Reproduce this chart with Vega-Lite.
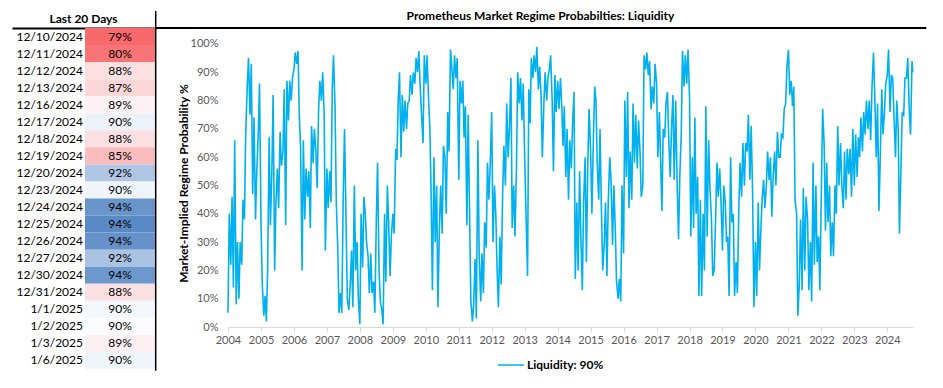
{
"$schema": "https://vega.github.io/schema/vega-lite/v6.json",
"padding": {"left": 12, "top": 10, "right": 5, "bottom": 0},
"bounds": "flush",
"spacing": 73,
"config": {
  "view": {"stroke": null},
  "font": "Lato",
  "title": {"fontSize": 12, "fontWeight": "bold", "color": "#000000", "frame": "group"},
  "text": {"fontSize": 12, "color": "#000000"}
},
"hconcat": [
{
  "width": 143,
  "height": 341,
  "title": {"text": "Last 20 Days", "anchor": "middle", "offset": 2},
  "data": {"values": [
    {"day": "12/10/2024", "prob": 0.790},
    {"day": "12/11/2024", "prob": 0.798},
    {"day": "12/12/2024", "prob": 0.878},
    {"day": "12/13/2024", "prob": 0.872},
    {"day": "12/16/2024", "prob": 0.892},
    {"day": "12/17/2024", "prob": 0.904},
    {"day": "12/18/2024", "prob": 0.879},
    {"day": "12/19/2024", "prob": 0.851},
    {"day": "12/20/2024", "prob": 0.920},
    {"day": "12/23/2024", "prob": 0.903},
    {"day": "12/24/2024", "prob": 0.938},
    {"day": "12/25/2024", "prob": 0.942},
    {"day": "12/26/2024", "prob": 0.939},
    {"day": "12/27/2024", "prob": 0.921},
    {"day": "12/30/2024", "prob": 0.937},
    {"day": "12/31/2024", "prob": 0.879},
    {"day": "1/1/2025", "prob": 0.902},
    {"day": "1/2/2025", "prob": 0.899},
    {"day": "1/3/2025", "prob": 0.891},
    {"day": "1/6/2025", "prob": 0.903}
  ]},
  "layer": [
    {
      "mark": {"type": "rect"},
      "encoding": {
        "y": {"field": "day", "type": "ordinal", "sort": null, "axis": null, "scale": {"paddingInner": 0, "paddingOuter": 0}},
        "x": {"datum": 73, "type": "quantitative", "scale": {"domain": [0, 143], "nice": false, "zero": false}, "axis": {"orient": "top", "labels": false, "ticks": false, "grid": false, "domainColor": "#000000", "domainWidth": 2, "title": null}},
        "x2": {"datum": 143},
        "color": {"field": "prob", "type": "quantitative", "legend": null, "scale": {"domain": [0.79, 0.9, 0.942], "range": ["#f8696b", "#fcfcff", "#5a8ac6"], "interpolate": "rgb"}}
      }
    },
    {
      "mark": {"type": "text", "align": "right"},
      "encoding": {
        "y": {"field": "day", "type": "ordinal", "sort": null, "axis": null},
        "x": {"datum": 71, "type": "quantitative"},
        "text": {"field": "day"}
      }
    },
    {
      "mark": {"type": "text", "align": "center"},
      "encoding": {
        "y": {"field": "day", "type": "ordinal", "sort": null, "axis": null},
        "x": {"datum": 108, "type": "quantitative"},
        "text": {"field": "prob", "format": ".0%"}
      }
    }
  ]
},
{
  "width": 685,
  "height": 341,
  "title": {"text": "Prometheus Market Regime Probabilties: Liquidity", "anchor": "middle", "offset": -13, "dx": -30},
  "layer": [
    {
      "data": {"values": [
{"date":"2004-01-01","value":0.05},{"date":"2004-01-15","value":0.40},{"date":"2004-02-01","value":0.22},{"date":"2004-02-15","value":0.46},{"date":"2004-03-01","value":0.14},{"date":"2004-03-15","value":0.66},{"date":"2004-04-01","value":0.08},{"date":"2004-04-15","value":0.30},{"date":"2004-05-01","value":0.10},{"date":"2004-05-15","value":0.30},{"date":"2004-06-01","value":0.22},{"date":"2004-06-15","value":0.45},{"date":"2004-07-01","value":0.38},{"date":"2004-07-15","value":0.68},{"date":"2004-08-01","value":0.85},{"date":"2004-08-15","value":0.95},{"date":"2004-09-01","value":0.75},{"date":"2004-09-15","value":0.93},{"date":"2004-10-01","value":0.47},{"date":"2004-10-15","value":0.74},{"date":"2004-11-01","value":0.38},{"date":"2004-11-15","value":0.55},{"date":"2004-12-01","value":0.68},{"date":"2004-12-15","value":0.86},
{"date":"2005-01-01","value":0.36},{"date":"2005-01-15","value":0.15},{"date":"2005-02-01","value":0.04},{"date":"2005-02-15","value":0.11},{"date":"2005-03-01","value":0.02},{"date":"2005-03-15","value":0.20},{"date":"2005-04-01","value":0.67},{"date":"2005-04-15","value":0.36},{"date":"2005-05-01","value":0.55},{"date":"2005-05-15","value":0.82},{"date":"2005-06-01","value":0.20},{"date":"2005-06-15","value":0.44},{"date":"2005-07-01","value":0.56},{"date":"2005-07-15","value":0.42},{"date":"2005-08-01","value":0.69},{"date":"2005-08-15","value":0.57},{"date":"2005-09-01","value":0.62},{"date":"2005-09-15","value":0.84},{"date":"2005-10-01","value":0.36},{"date":"2005-10-15","value":0.87},{"date":"2005-11-01","value":0.73},{"date":"2005-11-15","value":0.87},{"date":"2005-12-01","value":0.80},{"date":"2005-12-15","value":0.88},
{"date":"2006-01-01","value":0.91},{"date":"2006-01-15","value":0.97},{"date":"2006-02-01","value":0.93},{"date":"2006-02-15","value":0.975},{"date":"2006-03-01","value":0.75},{"date":"2006-03-15","value":0.64},{"date":"2006-04-01","value":0.20},{"date":"2006-04-15","value":0.66},{"date":"2006-05-01","value":0.38},{"date":"2006-05-15","value":0.56},{"date":"2006-06-01","value":0.46},{"date":"2006-06-15","value":0.55},{"date":"2006-07-01","value":0.35},{"date":"2006-07-15","value":0.71},{"date":"2006-08-01","value":0.58},{"date":"2006-08-15","value":0.70},{"date":"2006-09-01","value":0.62},{"date":"2006-09-15","value":0.49},{"date":"2006-10-01","value":0.77},{"date":"2006-10-15","value":0.87},{"date":"2006-11-01","value":0.80},{"date":"2006-11-15","value":0.90},{"date":"2006-12-01","value":0.76},{"date":"2006-12-15","value":0.27},
{"date":"2007-01-01","value":0.56},{"date":"2007-01-15","value":0.42},{"date":"2007-02-01","value":0.55},{"date":"2007-02-15","value":0.44},{"date":"2007-03-01","value":0.84},{"date":"2007-03-15","value":0.96},{"date":"2007-04-01","value":0.78},{"date":"2007-04-15","value":0.44},{"date":"2007-05-01","value":0.28},{"date":"2007-05-15","value":0.05},{"date":"2007-06-01","value":0.12},{"date":"2007-06-15","value":0.05},{"date":"2007-07-01","value":0.47},{"date":"2007-07-15","value":0.70},{"date":"2007-08-01","value":0.38},{"date":"2007-08-15","value":0.10},{"date":"2007-09-01","value":0.06},{"date":"2007-09-15","value":0.14},{"date":"2007-10-01","value":0.27},{"date":"2007-10-15","value":0.07},{"date":"2007-11-01","value":0.50},{"date":"2007-11-15","value":0.20},{"date":"2007-12-01","value":0.30},{"date":"2007-12-15","value":0.10},
{"date":"2008-01-01","value":0.01},{"date":"2008-01-15","value":0.40},{"date":"2008-02-01","value":0.21},{"date":"2008-02-15","value":0.46},{"date":"2008-03-01","value":0.40},{"date":"2008-03-15","value":0.30},{"date":"2008-04-01","value":0.25},{"date":"2008-04-15","value":0.12},{"date":"2008-05-01","value":0.26},{"date":"2008-05-15","value":0.12},{"date":"2008-06-01","value":0.16},{"date":"2008-06-15","value":0.05},{"date":"2008-07-01","value":0.37},{"date":"2008-07-15","value":0.58},{"date":"2008-08-01","value":0.20},{"date":"2008-08-15","value":0.09},{"date":"2008-09-01","value":0.06},{"date":"2008-09-15","value":0.01},{"date":"2008-10-01","value":0.40},{"date":"2008-10-15","value":0.16},{"date":"2008-11-01","value":0.50},{"date":"2008-11-15","value":0.37},{"date":"2008-12-01","value":0.18},{"date":"2008-12-15","value":0.32},
{"date":"2009-01-01","value":0.40},{"date":"2009-01-15","value":0.33},{"date":"2009-02-01","value":0.63},{"date":"2009-02-15","value":0.59},{"date":"2009-03-01","value":0.80},{"date":"2009-03-15","value":0.90},{"date":"2009-04-01","value":0.60},{"date":"2009-04-15","value":0.82},{"date":"2009-05-01","value":0.69},{"date":"2009-05-15","value":0.80},{"date":"2009-06-01","value":0.70},{"date":"2009-06-15","value":0.79},{"date":"2009-07-01","value":0.80},{"date":"2009-07-15","value":0.89},{"date":"2009-08-01","value":0.82},{"date":"2009-08-15","value":0.90},{"date":"2009-09-01","value":0.86},{"date":"2009-09-15","value":0.95},{"date":"2009-10-01","value":0.90},{"date":"2009-10-15","value":0.975},{"date":"2009-11-01","value":0.84},{"date":"2009-11-15","value":0.75},{"date":"2009-12-01","value":0.65},{"date":"2009-12-15","value":0.96},
{"date":"2010-01-01","value":0.86},{"date":"2010-01-15","value":0.96},{"date":"2010-02-01","value":0.80},{"date":"2010-02-15","value":0.70},{"date":"2010-03-01","value":0.46},{"date":"2010-03-15","value":0.13},{"date":"2010-04-01","value":0.60},{"date":"2010-04-15","value":0.30},{"date":"2010-05-01","value":0.50},{"date":"2010-05-15","value":0.07},{"date":"2010-06-01","value":0.36},{"date":"2010-06-15","value":0.50},{"date":"2010-07-01","value":0.33},{"date":"2010-07-15","value":0.64},{"date":"2010-08-01","value":0.60},{"date":"2010-08-15","value":0.40},{"date":"2010-09-01","value":0.76},{"date":"2010-09-15","value":0.62},{"date":"2010-10-01","value":0.98},{"date":"2010-10-15","value":0.92},{"date":"2010-11-01","value":0.84},{"date":"2010-11-15","value":0.96},{"date":"2010-12-01","value":0.88},{"date":"2010-12-15","value":0.95},
{"date":"2011-01-01","value":0.52},{"date":"2011-01-15","value":0.87},{"date":"2011-02-01","value":0.79},{"date":"2011-02-15","value":0.87},{"date":"2011-03-01","value":0.67},{"date":"2011-03-15","value":0.78},{"date":"2011-04-01","value":0.36},{"date":"2011-04-15","value":0.75},{"date":"2011-05-01","value":0.40},{"date":"2011-05-15","value":0.09},{"date":"2011-06-01","value":0.02},{"date":"2011-06-15","value":0.08},{"date":"2011-07-01","value":0.24},{"date":"2011-07-15","value":0.03},{"date":"2011-08-01","value":0.66},{"date":"2011-08-15","value":0.26},{"date":"2011-09-01","value":0.09},{"date":"2011-09-15","value":0.26},{"date":"2011-10-01","value":0.12},{"date":"2011-10-15","value":0.37},{"date":"2011-11-01","value":0.28},{"date":"2011-11-15","value":0.58},{"date":"2011-12-01","value":0.45},{"date":"2011-12-15","value":0.57},
{"date":"2012-01-01","value":0.76},{"date":"2012-01-15","value":0.30},{"date":"2012-02-01","value":0.50},{"date":"2012-02-15","value":0.40},{"date":"2012-03-01","value":0.20},{"date":"2012-03-15","value":0.07},{"date":"2012-04-01","value":0.32},{"date":"2012-04-15","value":0.15},{"date":"2012-05-01","value":0.47},{"date":"2012-05-15","value":0.64},{"date":"2012-06-01","value":0.50},{"date":"2012-06-15","value":0.79},{"date":"2012-07-01","value":0.60},{"date":"2012-07-15","value":0.70},{"date":"2012-08-01","value":0.88},{"date":"2012-08-15","value":0.35},{"date":"2012-09-01","value":0.50},{"date":"2012-09-15","value":0.32},{"date":"2012-10-01","value":0.56},{"date":"2012-10-15","value":0.90},{"date":"2012-11-01","value":0.79},{"date":"2012-11-15","value":0.88},{"date":"2012-12-01","value":0.73},{"date":"2012-12-15","value":0.86},
{"date":"2013-01-01","value":0.59},{"date":"2013-01-15","value":0.40},{"date":"2013-02-01","value":0.18},{"date":"2013-02-15","value":0.84},{"date":"2013-03-01","value":0.72},{"date":"2013-03-15","value":0.95},{"date":"2013-04-01","value":0.88},{"date":"2013-04-15","value":0.96},{"date":"2013-05-01","value":0.90},{"date":"2013-05-15","value":0.99},{"date":"2013-06-01","value":0.84},{"date":"2013-06-15","value":0.92},{"date":"2013-07-01","value":0.82},{"date":"2013-07-15","value":0.60},{"date":"2013-08-01","value":0.79},{"date":"2013-08-15","value":0.90},{"date":"2013-09-01","value":0.80},{"date":"2013-09-15","value":0.88},{"date":"2013-10-01","value":0.91},{"date":"2013-10-15","value":0.96},{"date":"2013-11-01","value":0.80},{"date":"2013-11-15","value":0.55},{"date":"2013-12-01","value":0.89},{"date":"2013-12-15","value":0.76},
{"date":"2014-01-01","value":0.87},{"date":"2014-01-15","value":0.77},{"date":"2014-02-01","value":0.88},{"date":"2014-02-15","value":0.78},{"date":"2014-03-01","value":0.64},{"date":"2014-03-15","value":0.78},{"date":"2014-04-01","value":0.53},{"date":"2014-04-15","value":0.70},{"date":"2014-05-01","value":0.45},{"date":"2014-05-15","value":0.66},{"date":"2014-06-01","value":0.56},{"date":"2014-06-15","value":0.72},{"date":"2014-07-01","value":0.83},{"date":"2014-07-15","value":0.17},{"date":"2014-08-01","value":0.44},{"date":"2014-08-15","value":0.20},{"date":"2014-09-01","value":0.55},{"date":"2014-09-15","value":0.32},{"date":"2014-10-01","value":0.13},{"date":"2014-10-15","value":0.44},{"date":"2014-11-01","value":0.60},{"date":"2014-11-15","value":0.23},{"date":"2014-12-01","value":0.58},{"date":"2014-12-15","value":0.77},
{"date":"2015-01-01","value":0.62},{"date":"2015-01-15","value":0.40},{"date":"2015-02-01","value":0.67},{"date":"2015-02-15","value":0.85},{"date":"2015-03-01","value":0.80},{"date":"2015-03-15","value":0.58},{"date":"2015-04-01","value":0.45},{"date":"2015-04-15","value":0.70},{"date":"2015-05-01","value":0.41},{"date":"2015-05-15","value":0.20},{"date":"2015-06-01","value":0.30},{"date":"2015-06-15","value":0.44},{"date":"2015-07-01","value":0.18},{"date":"2015-07-15","value":0.44},{"date":"2015-08-01","value":0.60},{"date":"2015-08-15","value":0.52},{"date":"2015-09-01","value":0.29},{"date":"2015-09-15","value":0.50},{"date":"2015-10-01","value":0.35},{"date":"2015-10-15","value":0.16},{"date":"2015-11-01","value":0.10},{"date":"2015-11-15","value":0.17},{"date":"2015-12-01","value":0.09},{"date":"2015-12-15","value":0.50},
{"date":"2016-01-01","value":0.26},{"date":"2016-01-15","value":0.80},{"date":"2016-02-01","value":0.53},{"date":"2016-02-15","value":0.83},{"date":"2016-03-01","value":0.42},{"date":"2016-03-15","value":0.62},{"date":"2016-04-01","value":0.45},{"date":"2016-04-15","value":0.79},{"date":"2016-05-01","value":0.58},{"date":"2016-05-15","value":0.75},{"date":"2016-06-01","value":0.56},{"date":"2016-06-15","value":0.73},{"date":"2016-07-01","value":0.62},{"date":"2016-07-15","value":0.46},{"date":"2016-08-01","value":0.50},{"date":"2016-08-15","value":0.96},{"date":"2016-09-01","value":0.91},{"date":"2016-09-15","value":0.97},{"date":"2016-10-01","value":0.89},{"date":"2016-10-15","value":0.94},{"date":"2016-11-01","value":0.77},{"date":"2016-11-15","value":0.85},{"date":"2016-12-01","value":0.79},{"date":"2016-12-15","value":0.93},
{"date":"2017-01-01","value":0.86},{"date":"2017-01-15","value":0.60},{"date":"2017-02-01","value":0.76},{"date":"2017-02-15","value":0.58},{"date":"2017-03-01","value":0.41},{"date":"2017-03-15","value":0.70},{"date":"2017-04-01","value":0.67},{"date":"2017-04-15","value":0.79},{"date":"2017-05-01","value":0.83},{"date":"2017-05-15","value":0.67},{"date":"2017-06-01","value":0.53},{"date":"2017-06-15","value":0.70},{"date":"2017-07-01","value":0.82},{"date":"2017-07-15","value":0.52},{"date":"2017-08-01","value":0.80},{"date":"2017-08-15","value":0.53},{"date":"2017-09-01","value":0.31},{"date":"2017-09-15","value":0.53},{"date":"2017-10-01","value":0.68},{"date":"2017-10-15","value":0.975},{"date":"2017-11-01","value":0.85},{"date":"2017-11-15","value":0.96},{"date":"2017-12-01","value":0.86},{"date":"2017-12-15","value":0.98},
{"date":"2018-01-01","value":0.81},{"date":"2018-01-15","value":0.32},{"date":"2018-02-01","value":0.60},{"date":"2018-02-15","value":0.35},{"date":"2018-03-01","value":0.74},{"date":"2018-03-15","value":0.40},{"date":"2018-04-01","value":0.53},{"date":"2018-04-15","value":0.11},{"date":"2018-05-01","value":0.45},{"date":"2018-05-15","value":0.11},{"date":"2018-06-01","value":0.40},{"date":"2018-06-15","value":0.20},{"date":"2018-07-01","value":0.78},{"date":"2018-07-15","value":0.32},{"date":"2018-08-01","value":0.66},{"date":"2018-08-15","value":0.49},{"date":"2018-09-01","value":0.38},{"date":"2018-09-15","value":0.18},{"date":"2018-10-01","value":0.20},{"date":"2018-10-15","value":0.36},{"date":"2018-11-01","value":0.58},{"date":"2018-11-15","value":0.46},{"date":"2018-12-01","value":0.56},{"date":"2018-12-15","value":0.45},
{"date":"2019-01-01","value":0.27},{"date":"2019-01-15","value":0.50},{"date":"2019-02-01","value":0.44},{"date":"2019-02-15","value":0.30},{"date":"2019-03-01","value":0.32},{"date":"2019-03-15","value":0.11},{"date":"2019-04-01","value":0.60},{"date":"2019-04-15","value":0.37},{"date":"2019-05-01","value":0.40},{"date":"2019-05-15","value":0.11},{"date":"2019-06-01","value":0.23},{"date":"2019-06-15","value":0.12},{"date":"2019-07-01","value":0.42},{"date":"2019-07-15","value":0.58},{"date":"2019-08-01","value":0.46},{"date":"2019-08-15","value":0.65},{"date":"2019-09-01","value":0.50},{"date":"2019-09-15","value":0.65},{"date":"2019-10-01","value":0.62},{"date":"2019-10-15","value":0.75},{"date":"2019-11-01","value":0.52},{"date":"2019-11-15","value":0.71},{"date":"2019-12-01","value":0.47},{"date":"2019-12-15","value":0.07},
{"date":"2020-01-01","value":0.30},{"date":"2020-01-15","value":0.11},{"date":"2020-02-01","value":0.44},{"date":"2020-02-15","value":0.20},{"date":"2020-03-01","value":0.34},{"date":"2020-03-15","value":0.45},{"date":"2020-04-01","value":0.52},{"date":"2020-04-15","value":0.42},{"date":"2020-05-01","value":0.50},{"date":"2020-05-15","value":0.62},{"date":"2020-06-01","value":0.52},{"date":"2020-06-15","value":0.60},{"date":"2020-07-01","value":0.39},{"date":"2020-07-15","value":0.53},{"date":"2020-08-01","value":0.62},{"date":"2020-08-15","value":0.50},{"date":"2020-09-01","value":0.69},{"date":"2020-09-15","value":0.60},{"date":"2020-10-01","value":0.60},{"date":"2020-10-15","value":0.68},{"date":"2020-11-01","value":0.67},{"date":"2020-11-15","value":0.77},{"date":"2020-12-01","value":0.79},{"date":"2020-12-15","value":0.92},
{"date":"2021-01-01","value":0.98},{"date":"2021-01-15","value":0.82},{"date":"2021-02-01","value":0.87},{"date":"2021-02-15","value":0.78},{"date":"2021-03-01","value":0.85},{"date":"2021-03-15","value":0.45},{"date":"2021-04-01","value":0.40},{"date":"2021-04-15","value":0.04},{"date":"2021-05-01","value":0.15},{"date":"2021-05-15","value":0.38},{"date":"2021-06-01","value":0.13},{"date":"2021-06-15","value":0.49},{"date":"2021-07-01","value":0.20},{"date":"2021-07-15","value":0.46},{"date":"2021-08-01","value":0.38},{"date":"2021-08-15","value":0.13},{"date":"2021-09-01","value":0.30},{"date":"2021-09-15","value":0.09},{"date":"2021-10-01","value":0.58},{"date":"2021-10-15","value":0.22},{"date":"2021-11-01","value":0.50},{"date":"2021-11-15","value":0.23},{"date":"2021-12-01","value":0.32},{"date":"2021-12-15","value":0.13},
{"date":"2022-01-01","value":0.49},{"date":"2022-01-15","value":0.77},{"date":"2022-02-01","value":0.64},{"date":"2022-02-15","value":0.34},{"date":"2022-03-01","value":0.58},{"date":"2022-03-15","value":0.37},{"date":"2022-04-01","value":0.50},{"date":"2022-04-15","value":0.25},{"date":"2022-05-01","value":0.37},{"date":"2022-05-15","value":0.25},{"date":"2022-06-01","value":0.50},{"date":"2022-06-15","value":0.40},{"date":"2022-07-01","value":0.71},{"date":"2022-07-15","value":0.50},{"date":"2022-08-01","value":0.65},{"date":"2022-08-15","value":0.50},{"date":"2022-09-01","value":0.42},{"date":"2022-09-15","value":0.62},{"date":"2022-10-01","value":0.45},{"date":"2022-10-15","value":0.63},{"date":"2022-11-01","value":0.54},{"date":"2022-11-15","value":0.63},{"date":"2022-12-01","value":0.46},{"date":"2022-12-15","value":0.70},
{"date":"2023-01-01","value":0.50},{"date":"2023-01-15","value":0.68},{"date":"2023-02-01","value":0.53},{"date":"2023-02-15","value":0.67},{"date":"2023-03-01","value":0.60},{"date":"2023-03-15","value":0.74},{"date":"2023-04-01","value":0.62},{"date":"2023-04-15","value":0.76},{"date":"2023-05-01","value":0.68},{"date":"2023-05-15","value":0.80},{"date":"2023-06-01","value":0.70},{"date":"2023-06-15","value":0.80},{"date":"2023-07-01","value":0.66},{"date":"2023-07-15","value":0.84},{"date":"2023-08-01","value":0.97},{"date":"2023-08-15","value":0.82},{"date":"2023-09-01","value":0.60},{"date":"2023-09-15","value":0.79},{"date":"2023-10-01","value":0.41},{"date":"2023-10-15","value":0.60},{"date":"2023-11-01","value":0.84},{"date":"2023-11-15","value":0.68},{"date":"2023-12-01","value":0.76},{"date":"2023-12-15","value":0.86},
{"date":"2024-01-01","value":0.89},{"date":"2024-01-15","value":0.98},{"date":"2024-02-01","value":0.76},{"date":"2024-02-15","value":0.89},{"date":"2024-03-01","value":0.88},{"date":"2024-03-15","value":0.75},{"date":"2024-04-01","value":0.60},{"date":"2024-04-15","value":0.80},{"date":"2024-05-01","value":0.70},{"date":"2024-05-15","value":0.33},{"date":"2024-06-01","value":0.57},{"date":"2024-06-15","value":0.76},{"date":"2024-07-01","value":0.75},{"date":"2024-07-15","value":0.88},{"date":"2024-08-01","value":0.88},{"date":"2024-08-15","value":0.95},{"date":"2024-09-01","value":0.76},{"date":"2024-09-15","value":0.68},{"date":"2024-10-01","value":0.94},{"date":"2024-10-10","value":0.90}
      ]},
      "mark": {"type": "line", "strokeWidth": 1.6, "interpolate": "linear"},
      "encoding": {
        "x": {"field": "date", "type": "temporal", "title": null,
          "scale": {"type": "utc", "domain": [{"year": 2004, "month": 1, "date": 1, "utc": true}, {"year": 2024, "month": 10, "date": 12, "utc": true}], "nice": false},
          "axis": {"orient": "bottom", "offset": -42, "format": "%Y", "tickCount": {"interval": "year", "step": 1}, "grid": false, "domainColor": "#d9d9d9", "domainWidth": 1, "tickColor": "#d9d9d9", "tickSize": 5, "labelFontSize": 11, "labelColor": "#595959", "labelPadding": 2, "labelFlush": false, "labelOverlap": false}},
        "y": {"field": "value", "type": "quantitative",
          "scale": {"domain": [-0.1484, 1.0565], "nice": false, "zero": false},
          "axis": {"values": [0, 0.1, 0.2, 0.3, 0.4, 0.5, 0.6, 0.7, 0.8, 0.9, 1.0], "format": ".0%", "grid": false, "domain": false, "ticks": false, "labelOverlap": false, "labelPadding": 10, "labelFontSize": 11, "labelColor": "#595959", "title": "Market-Implied Regime Probability %", "titleFontSize": 12, "titleFontWeight": "bold", "titleColor": "#000000", "titleAngle": -90, "titleX": -45, "titleY": 155, "titleAlign": "center", "titleBaseline": "middle"}},
        "color": {"datum": "Liquidity: 90%", "type": "nominal",
          "scale": {"domain": ["Liquidity: 90%"], "range": ["#00b0f0"]},
          "legend": {"orient": "none", "legendX": 269, "legendY": 323, "title": null, "symbolType": "stroke", "symbolSize": 676, "symbolStrokeWidth": 1.5, "labelFontWeight": "bold", "labelFontSize": 12, "labelColor": "#000000", "labelOffset": 2}}
      }
    },
    {
      "data": {"values": [{"line": "title underline"}]},
      "mark": {"type": "rule", "color": "#000000", "strokeWidth": 2},
      "encoding": {
        "x": {"datum": {"year": 2001, "month": 10, "date": 22, "utc": true}, "type": "temporal", "title": null,
          "axis": {"orient": "bottom", "offset": -42, "format": "%Y", "tickCount": {"interval": "year", "step": 1}, "grid": false, "domainColor": "#d9d9d9", "domainWidth": 1, "tickColor": "#d9d9d9", "tickSize": 5, "labelFontSize": 11, "labelColor": "#595959", "labelPadding": 2, "labelFlush": false, "labelOverlap": false}},
        "x2": {"datum": {"year": 2025, "month": 3, "date": 8, "utc": true}},
        "y": {"datum": 1.0565, "type": "quantitative",
          "axis": {"values": [0, 0.1, 0.2, 0.3, 0.4, 0.5, 0.6, 0.7, 0.8, 0.9, 1.0], "format": ".0%", "grid": false, "domain": false, "ticks": false, "labelOverlap": false, "labelPadding": 10, "labelFontSize": 11, "labelColor": "#595959", "title": "Market-Implied Regime Probability %", "titleFontSize": 12, "titleFontWeight": "bold", "titleColor": "#000000", "titleAngle": -90, "titleX": -45, "titleY": 155, "titleAlign": "center", "titleBaseline": "middle"}}
      }
    },
    {
      "data": {"values": [{"line": "table border"}]},
      "mark": {"type": "rule", "color": "#000000", "strokeWidth": 1.5},
      "encoding": {
        "x": {"datum": {"year": 2001, "month": 10, "date": 22, "utc": true}, "type": "temporal", "title": null,
          "axis": {"orient": "bottom", "offset": -42, "format": "%Y", "tickCount": {"interval": "year", "step": 1}, "grid": false, "domainColor": "#d9d9d9", "domainWidth": 1, "tickColor": "#d9d9d9", "tickSize": 5, "labelFontSize": 11, "labelColor": "#595959", "labelPadding": 2, "labelFlush": false, "labelOverlap": false}},
        "y": {"datum": 1.117, "type": "quantitative",
          "axis": {"values": [0, 0.1, 0.2, 0.3, 0.4, 0.5, 0.6, 0.7, 0.8, 0.9, 1.0], "format": ".0%", "grid": false, "domain": false, "ticks": false, "labelOverlap": false, "labelPadding": 10, "labelFontSize": 11, "labelColor": "#595959", "title": "Market-Implied Regime Probability %", "titleFontSize": 12, "titleFontWeight": "bold", "titleColor": "#000000", "titleAngle": -90, "titleX": -45, "titleY": 155, "titleAlign": "center", "titleBaseline": "middle"}},
        "y2": {"datum": -0.155}
      }
    }
  ]
}
]
}
